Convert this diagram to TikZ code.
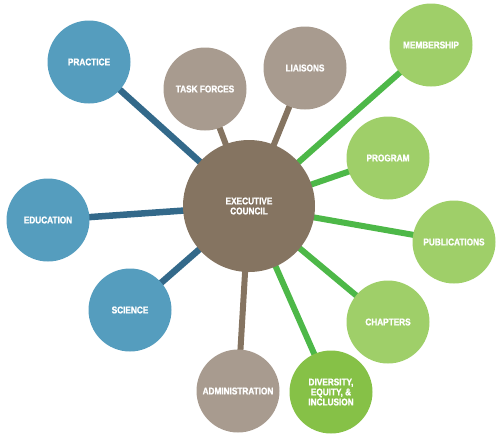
\documentclass[tikz,border=0pt]{standalone}
\usepackage{fontspec}
\setmainfont{Liberation Sans}[FakeStretch=0.84, BoldFeatures={FakeBold=1.2}]
\definecolor{cblue}{HTML}{559DBE}
\definecolor{lblue}{HTML}{33698A}
\definecolor{cbrown}{HTML}{857461}
\definecolor{ctan}{HTML}{A89B8F}
\definecolor{lbrown}{HTML}{857461}
\definecolor{cgreen}{HTML}{9FCF69}
\definecolor{dgreen}{HTML}{86C147}
\definecolor{lgreen}{HTML}{4DB848}
\tikzset{
  bub/.style={circle, minimum size=83pt, inner sep=0pt, text=white, align=center,
    font=\fontsize{9.8}{10}\selectfont\bfseries},
  bluebub/.style={bub, fill=cblue},
  tanbub/.style={bub, fill=ctan},
  greenbub/.style={bub, fill=cgreen},
  bline/.style={line width=6.5pt, draw=lblue},
  brline/.style={line width=6pt, draw=lbrown},
  gline/.style={line width=6pt, draw=lgreen}
}
\begin{document}
\begin{tikzpicture}[x=1pt,y=-1pt]
\useasboundingbox (0,0) rectangle (500,440);
\coordinate (e) at (249,206);
\coordinate (pr) at (89,62);
\coordinate (tf) at (205,89);
\coordinate (li) at (305,68);
\coordinate (me) at (431,45);
\coordinate (pg) at (388,158);
\coordinate (pu) at (454,242);
\coordinate (ch) at (388,322);
\coordinate (di) at (331,392);
\coordinate (ad) at (238,391);
\coordinate (sc) at (130,310);
\coordinate (ed) at (48,220);
% connectors
\draw[bline] (e) -- (pr);
\draw[bline] (e) -- (ed);
\draw[bline] (e) -- (sc);
\draw[brline] (e) -- (tf);
\draw[brline] (e) -- (li);
\draw[brline] (e) -- (ad);
\draw[gline] (e) -- (me);
\draw[gline] (e) -- (pg);
\draw[gline] (e) -- (pu);
\draw[gline] (e) -- (ch);
\draw[gline] (e) -- (di);
% nodes
\node[bub, fill=cbrown, minimum size=132pt] (exec) at (e) {EXECUTIVE\\COUNCIL};
\node[bluebub] (practice) at (pr) {PRACTICE};
\node[tanbub] (task) at (tf) {TASK FORCES};
\node[tanbub] (liaisons) at (li) {LIAISONS};
\node[greenbub] (membership) at (me) {MEMBERSHIP};
\node[greenbub] (program) at (pg) {PROGRAM};
\node[greenbub] (publications) at (pu) {PUBLICATIONS};
\node[greenbub] (chapters) at (ch) {CHAPTERS};
\node[bub, fill=dgreen] (diversity) at (di) {DIVERSITY,\\EQUITY, \&\\INCLUSION};
\node[tanbub] (admin) at (ad) {ADMINISTRATION};
\node[bluebub] (science) at (sc) {SCIENCE};
\node[bluebub] (education) at (ed) {EDUCATION};
\end{tikzpicture}
\end{document}
